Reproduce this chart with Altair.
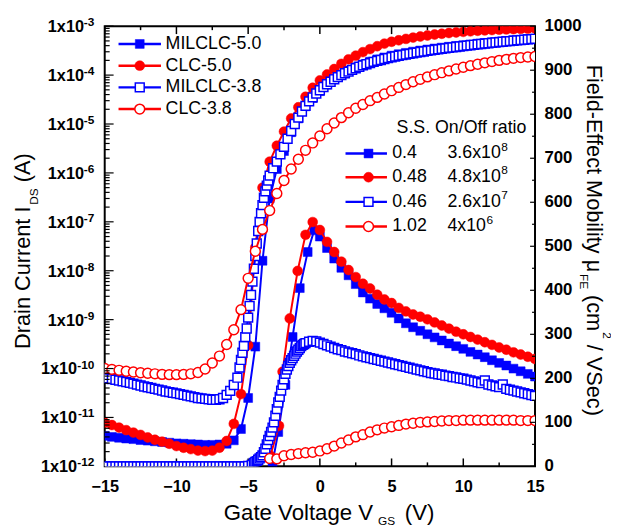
import altair as alt
import pandas as pd

FONT = "Liberation Sans"
BLUE = "#0000ff"
RED = "#ff0000"

# ---------------- gate-voltage grids (V) ----------------
V_HALF = [-15.0, -14.5, -14.0, -13.5, -13.0, -12.5, -12.0, -11.5, -11.0, -10.5,
          -10.0, -9.5, -9.0, -8.5, -8.0, -7.5, -7.0, -6.5, -6.0, -5.5,
          -5.0, -4.5, -4.0, -3.5, -3.0, -2.5, -2.0, -1.5, -1.0, -0.5,
          0.0, 0.5, 1.0, 1.5, 2.0, 2.5, 3.0, 3.5, 4.0, 4.5,
          5.0, 5.5, 6.0, 6.5, 7.0, 7.5, 8.0, 8.5, 9.0, 9.5,
          10.0, 10.5, 11.0, 11.5, 12.0, 12.5, 13.0, 13.5, 14.0, 14.5, 15.0]
V_Q_LOW = [-15.0, -14.75, -14.5, -14.25, -14.0, -13.75, -13.5, -13.25, -13.0, -12.75,
           -12.5, -12.25, -12.0, -11.75, -11.5, -11.25, -11.0, -10.75, -10.5, -10.25,
           -10.0, -9.75, -9.5, -9.25, -9.0, -8.75, -8.5, -8.25, -8.0, -7.75,
           -7.5, -7.25, -7.0, -6.75, -6.5, -6.25, -6.0, -5.75]
V_Q_MID = [-5.5, -5.25, -5.0, -4.75]
V_TENTH_ID = [-5.6, -5.5, -5.4, -5.3, -5.2, -5.1, -5.0, -4.9, -4.8, -4.7, -4.6,
              -4.5, -4.4, -4.3, -4.2, -4.1, -4.0, -3.9, -3.8, -3.7, -3.6, -3.5]
V_TENTH_MU = [-4.6, -4.5, -4.4, -4.3, -4.2, -4.1, -4.0, -3.9, -3.8, -3.7,
              -3.6, -3.5, -3.4, -3.3, -3.2, -3.1, -3.0, -2.9, -2.8, -2.7,
              -2.6, -2.5, -2.4, -2.3, -2.2, -2.1, -2.0, -1.9, -1.8, -1.7,
              -1.6, -1.5, -1.4, -1.3, -1.2, -1.1, -1.0]
V_Q_HIGH = [-3.25, -3.0, -2.75, -2.5, -2.25, -2.0, -1.75, -1.5, -1.25, -1.0,
            -0.75, -0.5, -0.25, 0.0, 0.25, 0.5, 0.75, 1.0, 1.25, 1.5,
            1.75, 2.0, 2.25, 2.5, 2.75, 3.0, 3.25, 3.5, 3.75, 4.0,
            4.25, 4.5, 4.75, 5.0, 5.25, 5.5, 5.75, 6.0, 6.25, 6.5,
            6.75, 7.0, 7.25, 7.5, 7.75, 8.0, 8.25, 8.5, 8.75, 9.0,
            9.25, 9.5, 9.75, 10.0, 10.25, 10.5, 10.75, 11.0, 11.25, 11.5,
            11.75, 12.0, 12.25, 12.5, 12.75, 13.0, 13.25, 13.5, 13.75, 14.0,
            14.25, 14.5, 14.75, 15.0]

# ---------------- drain current I_DS (A) ----------------
ID_MILCLC50 = [4.2e-12, 4.0e-12, 3.85e-12, 3.7e-12, 3.6e-12, 3.45e-12, 3.35e-12, 3.25e-12, 3.15e-12, 3.05e-12,
               2.95e-12, 2.9e-12, 2.85e-12, 2.8e-12, 2.75e-12, 2.75e-12, 2.8e-12, 2.9e-12, 3.4e-12, 5.8e-12,
               2.5e-11, 2.8e-10, 1.6e-8, 3.0e-7, 1.2e-6, 2.8e-6, 6.8e-6, 1.3e-5, 2.3e-5, 3.4e-5,
               4.7e-5, 6.4e-5, 8.3e-5, 1.03e-4, 1.24e-4, 1.45e-4, 1.66e-4, 1.88e-4, 2.1e-4, 2.3e-4,
               2.5e-4, 2.68e-4, 2.85e-4, 3.02e-4, 3.18e-4, 3.34e-4, 3.5e-4, 3.65e-4, 3.8e-4, 3.95e-4,
               4.1e-4, 4.25e-4, 4.4e-4, 4.55e-4, 4.7e-4, 4.85e-4, 5.0e-4, 5.15e-4, 5.3e-4, 5.45e-4, 5.6e-4]
ID_CLC50 = [7.8e-12, 7.0e-12, 6.2e-12, 5.5e-12, 4.9e-12, 4.4e-12, 3.9e-12, 3.5e-12, 3.2e-12, 2.9e-12,
            2.6e-12, 2.4e-12, 2.25e-12, 2.1e-12, 2.05e-12, 2.1e-12, 2.4e-12, 3.3e-12, 7.4e-12, 3.0e-11,
            3.0e-10, 3.0e-8, 5.0e-7, 1.7e-6, 3.6e-6, 7.0e-6, 1.3e-5, 2.2e-5, 3.6e-5, 5.5e-5,
            7.8e-5, 1.03e-4, 1.33e-4, 1.7e-4, 2.1e-4, 2.5e-4, 2.95e-4, 3.4e-4, 3.9e-4, 4.4e-4,
            4.8e-4, 5.15e-4, 5.5e-4, 5.85e-4, 6.15e-4, 6.45e-4, 6.75e-4, 7.0e-4, 7.25e-4, 7.45e-4,
            7.65e-4, 7.85e-4, 8.05e-4, 8.2e-4, 8.35e-4, 8.5e-4, 8.6e-4, 8.7e-4, 8.8e-4, 8.9e-4, 9.0e-4]
ID_MILCLC38 = [6.5e-11, 6.3e-11, 6.1e-11, 5.9e-11, 5.7e-11, 5.5e-11, 5.3e-11, 5.1e-11, 4.9e-11, 4.7e-11,
               4.5e-11, 4.3e-11, 4.15e-11, 4.0e-11, 3.85e-11, 3.7e-11, 3.55e-11, 3.4e-11, 3.3e-11, 3.2e-11,
               3.1e-11, 3.0e-11, 2.9e-11, 2.8e-11, 2.7e-11, 2.6e-11, 2.5e-11, 2.45e-11, 2.4e-11, 2.35e-11,
               2.3e-11, 2.3e-11, 2.35e-11, 2.5e-11, 2.9e-11, 3.5e-11, 4.6e-11, 6.5e-11,
               1.05e-10, 1.5e-10, 2.1e-10, 2.9e-10, 4.4e-10, 6.6e-10, 1.1e-9, 1.9e-9, 3.2e-9, 6.0e-9, 1.1e-8,
               2.0e-8, 3.6e-8, 6.5e-8, 1.0e-7, 1.5e-7, 2.2e-7, 3.1e-7, 4.2e-7, 5.5e-7, 7.0e-7, 8.8e-7,
               1.25e-6, 1.7e-6, 2.4e-6, 3.4e-6, 5.0e-6, 7.2e-6, 1.0e-5, 1.35e-5, 1.8e-5, 2.35e-5,
               2.9e-5, 3.5e-5, 4.2e-5, 4.9e-5, 5.7e-5, 6.5e-5, 7.3e-5, 8.2e-5, 9.1e-5, 1.0e-4,
               1.09e-4, 1.18e-4, 1.28e-4, 1.38e-4, 1.48e-4, 1.58e-4, 1.67e-4, 1.76e-4, 1.86e-4, 1.95e-4,
               2.04e-4, 2.13e-4, 2.22e-4, 2.31e-4, 2.4e-4, 2.48e-4, 2.56e-4, 2.64e-4, 2.72e-4, 2.8e-4,
               2.88e-4, 2.96e-4, 3.04e-4, 3.12e-4, 3.2e-4, 3.28e-4, 3.36e-4, 3.44e-4, 3.52e-4, 3.6e-4,
               3.68e-4, 3.76e-4, 3.84e-4, 3.92e-4, 4.0e-4, 4.08e-4, 4.16e-4, 4.24e-4, 4.32e-4, 4.4e-4,
               4.48e-4, 4.56e-4, 4.64e-4, 4.72e-4, 4.8e-4, 4.88e-4, 4.96e-4, 5.04e-4, 5.12e-4, 5.2e-4,
               5.28e-4, 5.36e-4, 5.44e-4, 5.52e-4]
ID_CLC38 = [1.0e-10, 9.6e-11, 9.2e-11, 8.8e-11, 8.5e-11, 8.2e-11, 8.0e-11, 7.8e-11, 7.6e-11, 7.5e-11,
            7.5e-11, 7.6e-11, 7.8e-11, 8.3e-11, 9.8e-11, 1.3e-10, 1.8e-10, 3.1e-10, 6.2e-10, 1.6e-9,
            7.0e-9, 2.5e-8, 7.0e-8, 1.7e-7, 3.8e-7, 7.0e-7, 1.2e-6, 1.9e-6, 2.9e-6, 4.1e-6,
            5.7e-6, 8.0e-6, 1.05e-5, 1.35e-5, 1.7e-5, 2.1e-5, 2.5e-5, 3.0e-5, 3.5e-5, 4.1e-5,
            4.8e-5, 5.6e-5, 6.4e-5, 7.3e-5, 8.2e-5, 9.2e-5, 1.02e-4, 1.12e-4, 1.22e-4, 1.33e-4,
            1.45e-4, 1.56e-4, 1.67e-4, 1.78e-4, 1.89e-4, 2.0e-4, 2.1e-4, 2.2e-4, 2.28e-4, 2.34e-4, 2.4e-4]

# ---------------- field-effect mobility (cm^2/VSec) ----------------
V_MU_MILCLC50 = [-3.3, -2.9, -2.4, -1.9, -1.4, -0.85, -0.4] + V_HALF[30:]
MU_MILCLC50 = [8, 78, 185, 294, 405, 487, 536,
               522, 496, 472, 451, 434, 414, 395, 381, 369, 359,
               349, 336, 325, 316, 308, 300, 293, 286, 279, 273,
               267, 260, 254, 248, 241, 235, 229, 222, 216, 210, 204]
V_MU_CLC50 = [-3.45, -2.85, -2.6, -2.1, -1.55, -1.0, -0.5] + V_HALF[30:]
MU_CLC50 = [24, 92, 215, 336, 444, 526, 555,
            537, 510, 487, 465, 446, 430, 415, 404, 390, 379,
            371, 360, 352, 345, 340, 334, 327, 320, 313, 306,
            300, 294, 288, 282, 276, 270, 265, 259, 254, 249, 244]
V_MU_MILCLC38 = V_Q_LOW + V_Q_MID + V_TENTH_MU + V_Q_HIGH[10:]
MU_MILCLC38 = [0, 0, 0, 0, 0, 0, 0, 0, 0, 0,
               0, 0, 0, 0, 0, 0, 0, 0, 0, 0,
               0, 0, 0, 0, 0, 0, 0, 0, 0, 0,
               0, 0, 0, 0, 0, 0, 0, 0, 0, 0,
               1, 3,
               8, 10, 12, 15, 18, 21, 25, 32, 40, 50,
               60, 69, 78, 88, 100, 115, 130, 145, 158, 172,
               185, 198, 210, 220, 228, 235, 241, 246, 251, 256,
               261, 265, 269, 273, 276, 278, 280,
               283, 285, 284, 281, 278, 275, 272, 269, 266, 264,
               261, 259, 257, 255, 252, 250, 248, 246, 244, 242,
               240, 238, 236, 234, 232, 230, 228, 226, 224, 222,
               220, 218, 216, 214, 212, 211, 209, 208, 206, 205,
               203, 202, 200, 199, 197, 195, 193, 191, 189, 195,
               186, 184, 182, 180, 186, 176, 174, 172, 170, 168,
               166, 164, 162, 160]
V_MU_CLC38 = V_HALF[23:]
MU_CLC38 = [18, 17, 24, 27, 29, 31, 32,
            35, 40, 46, 53, 60, 67, 72, 78, 83, 87,
            90, 93, 96, 98, 100, 101, 102, 103, 104, 104,
            105, 105, 105, 105, 105, 105, 105, 105, 104, 104, 104]

# ---------------- legends / ticks ----------------
NAMES = ["MILCLC-5.0", "CLC-5.0", "MILCLC-3.8", "CLC-3.8"]
COLORS = [BLUE, RED, BLUE, RED]
SHAPES = ["square", "circle", "square", "circle"]
FILLED = [True, True, False, False]
SS = ["0.4", "0.48", "0.46", "1.02"]
RATIO_BASE = ["3.6x10", "4.8x10", "2.6x10", "4x10"]
RATIO_EXP = ["8", "8", "7", "6"]

X_MAJOR = [-15, -10, -5, 0, 5, 10, 15]
X_MINOR = [-12.5, -7.5, -2.5, 2.5, 7.5, 12.5]
LOG_MAJOR = [1e-3, 1e-4, 1e-5, 1e-6, 1e-7, 1e-8, 1e-9, 1e-10, 1e-11, 1e-12]
LOG_EXP = ["-3", "-4", "-5", "-6", "-7", "-8", "-9", "-10", "-11", "-12"]
LOG_MINOR = [k * 10.0 ** e for e in range(-12, -3) for k in range(2, 10)]
R_MAJOR = [0, 100, 200, 300, 400, 500, 600, 700, 800, 900, 1000]
R_LABELS = ["0", "100", "200", "300", "400", "500", "600", "700", "800", "900", "1000"]
R_MINOR = [50, 150, 250, 350, 450, 550, 650, 750, 850, 950]

W, H = 436, 446

XSCALE = alt.Scale(domain=[-15, 15], nice=False, zero=False)
XAXIS = alt.Axis(values=X_MAJOR, title=None, grid=False, ticks=False, tickSize=0, domain=False,
                 labelFont=FONT, labelFontSize=16.5, labelFontWeight="bold", labelColor="black",
                 labelPadding=20, labelBaseline="middle", labelFlush=False, labelOverlap=False)
LOG = alt.Scale(type="log", domain=[1e-12, 1e-3], nice=False)
LIN = alt.Scale(domain=[0, 1000], nice=False, zero=True)

ONE = alt.Data(values=[{"k": 1}])


def xy(xs, ys, yname):
    assert len(xs) == len(ys), (yname, len(xs), len(ys))
    return pd.DataFrame({"V": xs, yname: ys})


def point_mark(chart, color, shape, filled, clip=True):
    size = 81 if shape == "square" else 100
    if filled:
        return chart.mark_point(shape=shape, filled=True, fill=color, stroke=color, strokeWidth=0.5,
                                size=size, opacity=1, clip=clip)
    return chart.mark_point(shape=shape, filled=True, fill="white", stroke=color, strokeWidth=1.5,
                            size=size, opacity=1, clip=clip)


def series(df, yname, scale, color, shape, filled):
    base = alt.Chart(df)
    enc = dict(x=alt.X("V:Q", scale=XSCALE, axis=XAXIS),
               y=alt.Y(f"{yname}:Q", scale=scale, axis=None))
    line = base.mark_line(color=color, strokeWidth=2, clip=True).encode(**enc)
    pts = point_mark(base, color, shape, filled).encode(**enc)
    return [line, pts]


def label(text, x, y, size, angle=None, align="left", baseline="middle", weight="normal"):
    kw = dict(text=text, align=align, baseline=baseline, font=FONT, fontSize=size,
              fontWeight=weight, color="black")
    if angle is not None:
        kw["angle"] = angle
    return alt.Chart(ONE).mark_text(**kw).encode(x=alt.value(x), y=alt.value(y))


# ---------------- left (log) group ----------------
transfer = [
    xy(V_HALF, ID_MILCLC50, "I"),
    xy(V_HALF, ID_CLC50, "I"),
    xy(V_Q_LOW + V_TENTH_ID + V_Q_HIGH, ID_MILCLC38, "I"),
    xy(V_HALF, ID_CLC38, "I"),
]
left_layers = []
for df, c, s, f in zip(transfer, COLORS, SHAPES, FILLED):
    left_layers += series(df, "I", LOG, c, s, f)

# x ticks (inward, bottom & top)
for vals, ln in ((X_MAJOR, 8), (X_MINOR, 4)):
    tdf = pd.DataFrame({"t": vals})
    tx = alt.X("t:Q", scale=XSCALE, axis=XAXIS)
    left_layers.append(alt.Chart(tdf).mark_rule(color="black", strokeWidth=1.5).encode(
        x=tx, y=alt.value(H), y2=alt.value(H - ln)))
    left_layers.append(alt.Chart(tdf).mark_rule(color="black", strokeWidth=1.5).encode(
        x=tx, y=alt.value(0), y2=alt.value(ln)))
# left log ticks
for vals, ln in ((LOG_MAJOR, 9), (LOG_MINOR, 5)):
    tdf = pd.DataFrame({"t": vals})
    left_layers.append(alt.Chart(tdf).mark_rule(color="black", strokeWidth=1.2).encode(
        y=alt.Y("t:Q", scale=LOG, axis=None), x=alt.value(0), x2=alt.value(ln)))
# left tick labels 1x10^n
lab = pd.DataFrame({"t": LOG_MAJOR, "e": LOG_EXP})
lab_single = lab[lab["e"].str.len() == 2]
lab_double = lab[lab["e"].str.len() == 3]
left_layers.append(alt.Chart(lab_single).mark_text(
    text="1x10", align="right", baseline="middle", font=FONT, fontSize=16.5, fontWeight="bold",
    color="black", dy=1).encode(x=alt.value(-21), y=alt.Y("t:Q", scale=LOG, axis=None)))
left_layers.append(alt.Chart(lab_double).mark_text(
    text="1x10", align="right", baseline="middle", font=FONT, fontSize=16.5, fontWeight="bold",
    color="black", dy=1).encode(x=alt.value(-28), y=alt.Y("t:Q", scale=LOG, axis=None)))
left_layers.append(alt.Chart(lab).mark_text(
    align="right", baseline="middle", font=FONT, fontSize=12, fontWeight="bold",
    color="black", dy=-4).encode(x=alt.value(-10.5), y=alt.Y("t:Q", scale=LOG, axis=None),
                                 text="e:N"))
left = alt.layer(*left_layers)

# ---------------- right (mobility) group ----------------
mobility = [
    xy(V_MU_MILCLC50, MU_MILCLC50, "M"),
    xy(V_MU_CLC50, MU_CLC50, "M"),
    xy(V_MU_MILCLC38, MU_MILCLC38, "M"),
    xy(V_MU_CLC38, MU_CLC38, "M"),
]
right_layers = []
for df, c, s, f in zip(mobility, COLORS, SHAPES, FILLED):
    right_layers += series(df, "M", LIN, c, s, f)
for vals, ln in ((R_MAJOR, 5), (R_MINOR, 3)):
    tdf = pd.DataFrame({"t": vals})
    right_layers.append(alt.Chart(tdf).mark_rule(color="black", strokeWidth=1.2).encode(
        y=alt.Y("t:Q", scale=LIN, axis=None), x=alt.value(W), x2=alt.value(W - ln)))
# right tick labels
rlab = pd.DataFrame({"t": R_MAJOR, "s": R_LABELS})
right_layers.append(alt.Chart(rlab).mark_text(
    align="left", baseline="middle", font=FONT, fontSize=17, fontWeight="bold",
    color="black", dy=0).encode(x=alt.value(W + 9.5), y=alt.Y("t:Q", scale=LIN, axis=None),
                                text="s:N"))

# legend 1 (top-left)
L1_Y = [18, 40, 62, 84]
for name, c, s, f, yy in zip(NAMES, COLORS, SHAPES, FILLED, L1_Y):
    right_layers.append(alt.Chart(ONE).mark_rule(color=c, strokeWidth=2.5).encode(
        x=alt.value(14), x2=alt.value(57), y=alt.value(yy)))
    right_layers.append(point_mark(alt.Chart(ONE), c, s, f, clip=False).encode(
        x=alt.value(35.5), y=alt.value(yy)))
    right_layers.append(label(name, 61.7, yy, 18))

# legend 2 (S.S. / On-Off ratio)
right_layers.append(label("S.S. On/Off ratio", 295.7, 103, 18))
L2_Y = [129, 153, 178, 203]
for c, s, f, ss, rb, rx, yy in zip(COLORS, SHAPES, FILLED, SS, RATIO_BASE, RATIO_EXP, L2_Y):
    right_layers.append(alt.Chart(ONE).mark_rule(color=c, strokeWidth=2.5).encode(
        x=alt.value(244), x2=alt.value(286), y=alt.value(yy)))
    right_layers.append(point_mark(alt.Chart(ONE), c, s, f, clip=False).encode(
        x=alt.value(267.3), y=alt.value(yy)))
    right_layers.append(label(ss, 291.3, yy, 18))
    right_layers.append(label(rb, 347.3, yy, 18))
    sup_x = 347.3 + (54.5 if len(rb) == 6 else 39.5)
    right_layers.append(label(rx, sup_x, yy - 7, 12))

# axis titles (with sub/superscripts)
right_layers.append(label("Gate Voltage V", 120.7, 500, 22.5, baseline="alphabetic"))
right_layers.append(label("GS", 277, 505, 12, baseline="alphabetic"))
right_layers.append(label("(V)", 304, 500, 22.5, baseline="alphabetic"))

right_layers.append(label("Drain Current I", -76, 327, 22, angle=270, baseline="alphabetic"))
right_layers.append(label("DS", -68, 181, 12, angle=270, baseline="alphabetic"))
right_layers.append(label("(A)", -76, 158, 22, angle=270, baseline="alphabetic"))

right_layers.append(label("Field-Effect Mobility \u03bc", 489, 39, 22, angle=90, baseline="alphabetic"))
right_layers.append(label("FE", 482, 251, 12, angle=90, baseline="alphabetic"))
right_layers.append(label("(cm", 489, 272.4, 22, angle=90, baseline="alphabetic"))
right_layers.append(label("2", 505, 310, 12, angle=90, baseline="alphabetic"))
right_layers.append(label("/ VSec)", 489, 322.8, 22, angle=90, baseline="alphabetic"))

right = alt.layer(*right_layers)

chart = (
    alt.layer(left, right)
    .resolve_scale(y="independent")
    .properties(
        width=W,
        height=H,
        padding={"left": 98, "top": 15, "right": 77, "bottom": 57},
        autosize=alt.AutoSizeParams(type="none"),
        background="white",
    )
    .configure_view(stroke="black", strokeWidth=2)
)

chart.save("out.html", embed_options={"renderer": "svg", "actions": False})
